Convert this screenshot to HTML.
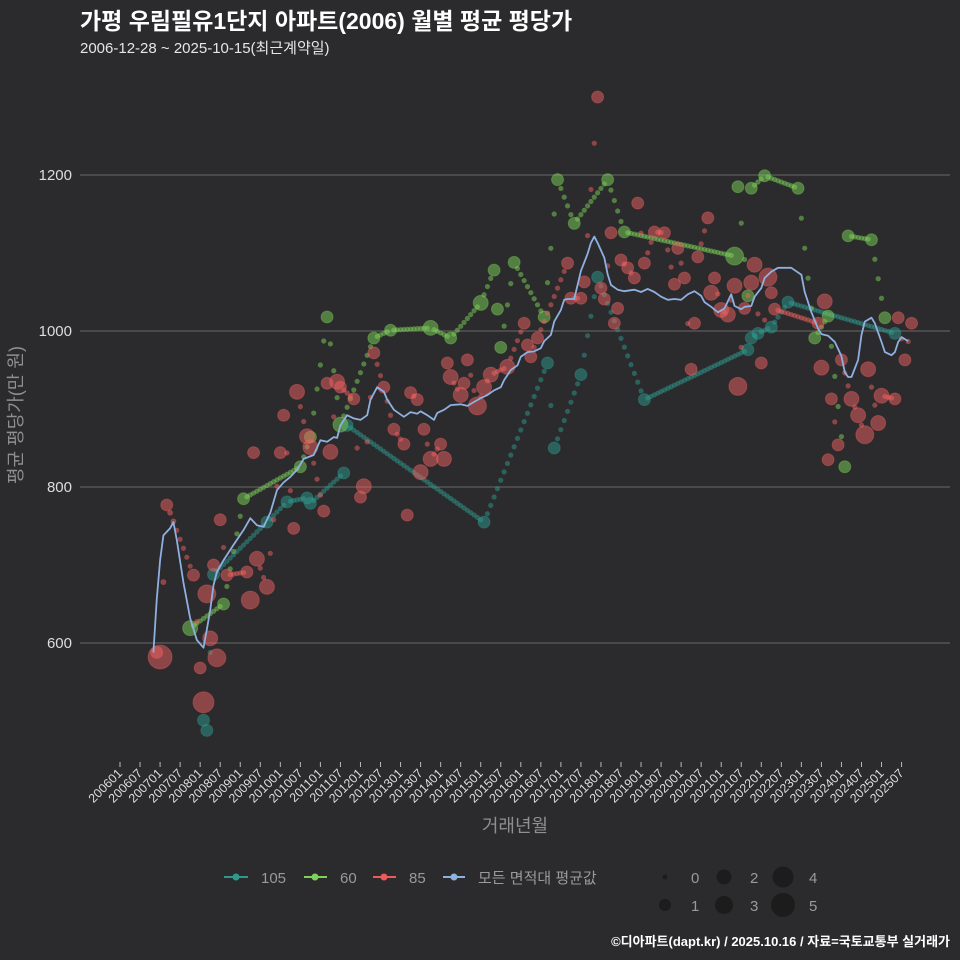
<!DOCTYPE html>
<html><head><meta charset="utf-8">
<style>
html,body{margin:0;padding:0;background:#2b2a2c;overflow:hidden;width:960px;height:960px;}
svg{display:block;}
svg text{font-family:"Liberation Sans","Noto Sans CJK KR",sans-serif;}
</style></head>
<body>
<svg id="chart" width="960" height="960" xmlns="http://www.w3.org/2000/svg">
<rect x="0" y="0" width="960" height="960" fill="#2b2a2c"/>
<text x="80" y="29" fill="#ffffff" font-size="23" font-weight="bold">가평 우림필유1단지 아파트(2006) 월별 평균 평당가</text>
<text x="80" y="53" fill="#e6e6e6" font-size="15">2006-12-28 ~ 2025-10-15(최근계약일)</text>
<g id="grid"></g>
<g id="yticks"></g>
<g id="xticks"></g>
<text transform="translate(22,415) rotate(-90)" text-anchor="middle" fill="#8f8f8f" font-size="18">평균 평당가(만 원)</text>
<text x="515" y="832" text-anchor="middle" fill="#8f8f8f" font-size="18">거래년월</text>
<g id="marks"></g>
<g id="legend">
  <g>
    <line x1="224" y1="877" x2="248" y2="877" stroke="#2e9a8e" stroke-width="2"/><circle cx="236" cy="877" r="3.5" fill="#2e9a8e"/>
    <text x="261" y="883" fill="#9a9a9a" font-size="15">105</text></g>
  <g>
    <line x1="304" y1="877" x2="327" y2="877" stroke="#7dd35a" stroke-width="2"/><circle cx="315" cy="877" r="3.5" fill="#7dd35a"/>
    <text x="340" y="883" fill="#9a9a9a" font-size="15">60</text></g>
  <g>
    <line x1="373" y1="877" x2="396" y2="877" stroke="#ee5a5a" stroke-width="2"/><circle cx="384" cy="877" r="3.5" fill="#ee5a5a"/>
    <text x="409" y="883" fill="#9a9a9a" font-size="15">85</text></g>
  <g>
    <line x1="443" y1="877" x2="465" y2="877" stroke="#8fb0e0" stroke-width="2"/><circle cx="454" cy="877" r="3.5" fill="#8fb0e0"/>
    <text x="478" y="883" fill="#9a9a9a" font-size="15">모든 면적대 평균값</text></g>
</g>
<g id="sizelegend"></g>
<text x="950" y="946" text-anchor="end" fill="#ffffff" font-size="13" font-weight="bold">©디아파트(dapt.kr) / 2025.10.16 / 자료=국토교통부 실거래가</text>
</svg>
<script>
const yTicks=[600,800,1000,1200];
const xTickLabels=["200601","200607","200701","200707","200801","200807","200901","200907","201001","201007","201101","201107","201201","201207","201301","201307","201401","201407","201501","201507","201601","201607","201701","201707","201801","201807","201901","201907","202001","202007","202101","202107","202201","202207","202301","202307","202401","202407","202501","202507"];
const sizeLegendValues=[0,1,2,3,4,5];

const s105Months=["200802","200803","200805","200909","201003","201009","201010","201108","201109","201502","201609","201611","201707","201712","201902","202109","202110","202112","202204","202209","202505"];
const s105Values=[501,488,688,755,781,786,779,818,879,755,959,850,944,1069,912,976,991,997,1005,1037,997];
const s105Counts=[1,1,1,1,1,1,1,1,1,1,1,1,1,1,1,1,1,1,1,1,1];

const s60Months=["200710","200808","200902","201007","201010","201103","201107","201205","201210","201310","201404","201501","201505","201506","201507","201511","201608","201612","201705","201803","201808","202105","202106","202109","202110","202202","202212","202305","202309","202402","202403","202410","202502"];
const s60Values=[619,650,785,826,864,1018,880,991,1001,1004,991,1036,1078,1028,979,1088,1018,1194,1138,1194,1127,1096,1185,1045,1183,1199,1183,991,1019,826,1122,1117,1017];
const s60Counts=[2,1,1,1,1,1,2,1,1,2,1,2,1,1,1,1,1,1,1,1,1,3,1,1,1,1,1,1,1,1,1,1,1];

const s85Months=["200612","200701","200702","200703","200704","200705","200711","200801","200802","200803","200804","200805","200806","200807","200809","200903","200904","200905","200906","200909","201001","201002","201005","201006","201009","201010","201102","201103","201104","201106","201107","201111","201201","201202","201205","201208","201211","201302","201303","201304","201306","201307","201308","201310","201401","201402","201403","201404","201407","201408","201409","201412","201502","201504","201509","201602","201603","201604","201606","201703","201704","201707","201708","201712","201801","201802","201804","201805","201806","201807","201809","201811","201812","201902","201905","201908","201911","201912","202002","202004","202005","202006","202009","202010","202011","202101","202103","202105","202106","202108","202110","202111","202201","202203","202204","202205","202306","202307","202308","202309","202310","202312","202401","202404","202406","202408","202409","202412","202501","202505","202506","202508","202510"];
const s85Values=[588,582,678,777,767,756,687,568,524,663,606,700,581,758,687,691,655,844,708,672,844,892,747,922,865,851,769,933,845,935,928,913,787,801,972,928,874,855,764,921,912,819,874,836,855,836,959,941,918,933,963,904,928,944,954,1010,982,967,991,1087,1042,1042,1063,1300,1055,1041,1126,1010,1029,1091,1081,1068,1164,1087,1127,1126,1060,1106,1068,951,1010,1095,1145,1049,1068,1027,1021,1058,929,1029,1062,1085,959,1069,1049,1028,1010,953,1038,835,913,854,963,913,892,867,951,882,917,913,1017,963,1010];
const s85Counts=[1,5,0,1,0,0,1,1,4,3,2,1,3,1,1,1,3,1,2,2,1,1,1,2,2,2,1,1,2,2,1,1,1,2,1,1,1,1,1,1,1,2,1,2,1,2,1,2,2,1,1,3,2,2,2,1,1,1,1,1,1,1,1,1,1,1,1,1,1,1,1,1,1,1,1,1,1,1,1,1,1,1,1,2,1,2,2,2,3,1,2,2,1,3,1,1,1,2,2,1,1,1,1,2,2,3,2,2,2,1,1,1,1];

const avgMonths=[10,11,12,13,15,16,17,19,21,23,25,26,27,28,29,31,34,37,39,41,43,45,47,49,51,53,55,58,60,62,64,65,66,68,70,72,74,75,77,79,80,82,85,87,89,90,92,94,95,97,99,102,104,106,108,110,112,114,115,117,119,120,122,124,126,127,129,130,132,133,134,136,137,138,140,141,142,143,145,146,147,149,151,154,156,158,160,162,164,166,168,170,172,174,175,177,179,181,183,184,186,187,189,190,192,193,195,197,199,201,202,204,205,207,209,210,212,213,214,216,217,218,219,221,222,223,225,226,228,229,231,232,233,234,236];
const avgValues=[588,655,706,738,747,755,732,677,632,604,594,617,642,674,691,706,726,745,760,751,749,767,796,806,813,822,836,841,860,858,864,863,879,892,888,886,892,912,928,922,912,899,890,896,894,897,892,886,895,899,905,906,904,909,914,918,924,928,937,950,956,967,973,974,978,987,995,1012,1027,1040,1041,1041,1059,1077,1099,1113,1121,1113,1094,1073,1059,1053,1051,1053,1050,1054,1050,1044,1040,1041,1040,1047,1051,1045,1037,1031,1024,1029,1047,1032,1028,1031,1032,1044,1055,1068,1076,1081,1081,1081,1078,1072,1050,1024,1003,996,994,990,986,968,947,941,941,963,995,1012,1017,1010,986,973,969,973,986,992,987];

const NS="http://www.w3.org/2000/svg";
const X0=120, PXM=3.34, Y1000=331, PXV=0.78, PL=80, PR=950;
function monthIndex(s){return (parseInt(s.slice(0,4))-2006)*12+parseInt(s.slice(4,6))-1;}
function xScale(m){return X0+m*PXM;}
function yScale(v){return Y1000-(v-1000)*PXV;}
function rScale(c){return [2.5,6,7.5,9,10.5,12][Math.max(0,Math.min(5,c))];}
function mk(tag,attrs,parent){const e=document.createElementNS(NS,tag);for(const k in attrs)e.setAttribute(k,attrs[k]);parent.appendChild(e);return e;}

const grid=document.getElementById('grid'), yt=document.getElementById('yticks'), xt=document.getElementById('xticks'), marks=document.getElementById('marks');
yTicks.forEach(v=>{
  const l=mk('line',{x1:PL,x2:PR,y1:yScale(v),y2:yScale(v),stroke:'#6a6a6a','stroke-width':1},grid);
  
  
  const t=mk('text',{x:72,y:yScale(v)+5,'text-anchor':'end',fill:'#dddddd','font-size':15},yt);
  t.textContent=v;
  
  
});
xTickLabels.forEach(s=>{
  const x=xScale(monthIndex(s));
  const l=mk('line',{x1:x,x2:x,y1:762,y2:767,stroke:'#bbbbbb','stroke-width':1},xt);
  
  
  const t=mk('text',{transform:'translate('+(x+3)+',774) rotate(-45)','text-anchor':'end',fill:'#dddddd','font-size':12.5},xt);
  t.textContent=s;
  
  
});

function drawSeries(name,months,values,counts,color){
  const g=mk('g',{},marks);
  
  
  const pts=months.map((s,i)=>({m:monthIndex(s),v:values[i],c:counts[i]})).sort((a,b)=>a.m-b.m);
  for(let i=1;i<pts.length;i++){
    const a=pts[i-1],b=pts[i];
    for(let k=1;k<b.m-a.m;k++){
      const t=k/(b.m-a.m);
      const d=mk('circle',{cx:xScale(a.m+k),cy:yScale(a.v+(b.v-a.v)*t),r:2.6,fill:color,'fill-opacity':0.5},g);
      
      
    }
  }
  pts.forEach(p=>{
    const c=mk('circle',{cx:xScale(p.m),cy:yScale(p.v),r:rScale(p.c),fill:color,'fill-opacity':0.5,stroke:color,'stroke-opacity':0.35,'stroke-width':1},g);
    
    
  });
}
drawSeries('105',s105Months,s105Values,s105Counts,'#2e9a8e');
drawSeries('60',s60Months,s60Values,s60Counts,'#7dd35a');
drawSeries('85',s85Months,s85Values,s85Counts,'#f06262');

const avgPath=mk('path',{d:avgMonths.map((m,i)=>(i?'L':'M')+xScale(m).toFixed(1)+','+yScale(avgValues[i]).toFixed(1)).join(''),fill:'none',stroke:'#8fb0e0','stroke-width':1.8,'stroke-linejoin':'round'},marks);



const sl=document.getElementById('sizelegend');
sizeLegendValues.forEach((v,i)=>{
  const col=Math.floor(i/2), row=i%2;
  const cx=665+col*59, cy=877+row*28;
  const c=mk('circle',{cx:cx,cy:cy,r:rScale(v),fill:'#1c1c1d'},sl);
  
  
  const t=mk('text',{x:cx+26,y:cy+6,fill:'#9a9a9a','font-size':15},sl);
  t.textContent=v;
  
  
});
</script>
</body></html>
